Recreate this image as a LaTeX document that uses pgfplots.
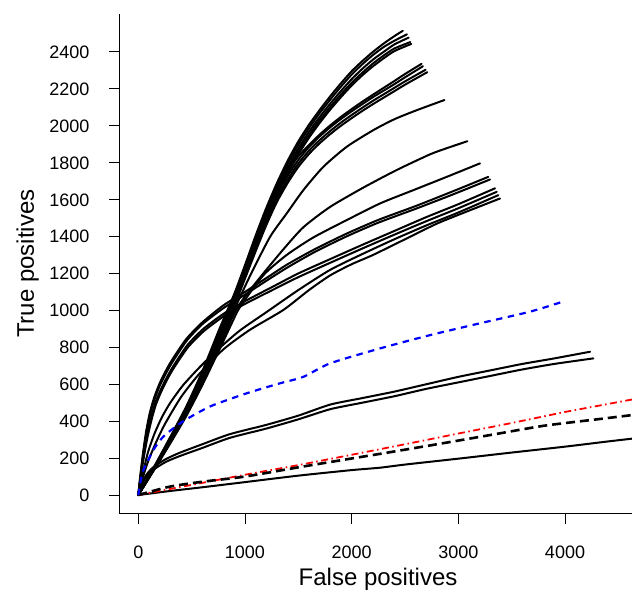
\documentclass[border=0pt]{standalone}
\usepackage{fontspec}
\setmainfont{Liberation Sans}
\usepackage{pgfplots}
\pgfplotsset{compat=1.18}
\begin{document}
\begin{tikzpicture}
\begin{axis}[name=ax,
  scale only axis, width=513bp, height=499.5bp,
  xmin=-181, xmax=4628, ymin=-100, ymax=2605,
  axis x line*=bottom, axis y line*=left,
  axis line style={line width=0.8bp, -},
  xtick={0,1000,2000,3000,4000},
  ytick={0,200,400,600,800,1000,1200,1400,1600,1800,2000,2200,2400},
  minor tick num=0,
  tick align=outside,
  major tick length=10bp,
  tick style={line width=0.8bp, black},
  /pgf/number format/assume math mode=true,
  /pgf/number format/1000 sep={},
  tick label style={font=\fontsize{18bp}{20bp}\selectfont},
  xticklabel style={anchor=base, yshift=-34.5bp},
  yticklabel style={anchor=base east, inner xsep=0pt, xshift=-19.5bp, yshift=-6.45bp},
  xlabel={False positives}, ylabel={True positives},
  label style={font=\fontsize{24bp}{28bp}\selectfont},
  xlabel style={at={(axis description cs:0.505,-0.145)}, anchor=base},
  ylabel style={at={(axis description cs:-0.166,0.5)}, anchor=base},
  bl/.style={black, line width=2bp, line join=round, line cap=round, smooth, tension=0.4},
]
% ---- top bundle (A) ----
\addplot[bl] coordinates {(0,0)(150,155)(300,315)(450,480)(600,670)(750,885)(900,1090)(1000,1245)(1100,1405)(1200,1555)(1300,1690)(1400,1810)(1500,1915)(1600,2005)(1700,2085)(1800,2160)(1900,2230)(2000,2295)(2100,2350)(2200,2400)(2300,2445)(2400,2485)(2480,2514)};
\addplot[bl] coordinates {(0,0)(150,150)(300,308)(450,470)(600,658)(750,870)(900,1072)(1000,1225)(1100,1385)(1200,1535)(1300,1672)(1400,1792)(1500,1897)(1600,1987)(1700,2068)(1800,2142)(1900,2212)(2000,2277)(2100,2333)(2200,2383)(2300,2426)(2400,2460)(2518,2495)};
\addplot[bl] coordinates {(0,0)(150,148)(300,302)(450,462)(600,648)(750,858)(900,1058)(1000,1208)(1100,1365)(1200,1515)(1300,1652)(1400,1772)(1500,1877)(1600,1967)(1700,2047)(1800,2120)(1900,2188)(2000,2252)(2100,2308)(2200,2358)(2300,2400)(2400,2440)(2534,2477)};
\addplot[bl] coordinates {(0,0)(150,146)(300,298)(450,456)(600,640)(750,848)(900,1046)(1000,1195)(1100,1350)(1200,1500)(1300,1637)(1400,1757)(1500,1860)(1600,1950)(1700,2030)(1800,2102)(1900,2170)(2000,2232)(2100,2287)(2200,2337)(2300,2380)(2400,2418)(2550,2453)};
\addplot[bl] coordinates {(0,0)(150,144)(300,294)(450,452)(600,634)(750,840)(900,1036)(1000,1183)(1100,1338)(1200,1486)(1300,1622)(1400,1742)(1500,1845)(1600,1935)(1700,2015)(1800,2088)(1900,2155)(2000,2218)(2100,2273)(2200,2322)(2300,2365)(2400,2404)(2559,2443)};
% ---- second bundle (B) ----
\addplot[bl] coordinates {(0,0)(150,152)(300,310)(450,472)(600,662)(750,875)(900,1078)(1000,1228)(1100,1385)(1200,1530)(1300,1655)(1400,1755)(1500,1835)(1600,1895)(1700,1952)(1800,2002)(1900,2048)(2000,2090)(2100,2130)(2200,2168)(2300,2205)(2400,2242)(2500,2280)(2655,2335)};
\addplot[bl] coordinates {(0,0)(150,147)(300,300)(450,460)(600,645)(750,852)(900,1052)(1000,1200)(1100,1352)(1200,1497)(1300,1625)(1400,1728)(1500,1815)(1600,1885)(1700,1942)(1800,1992)(1900,2037)(2000,2078)(2100,2117)(2200,2155)(2300,2190)(2400,2225)(2500,2262)(2668,2322)};
\addplot[bl] coordinates {(0,0)(150,145)(300,296)(450,453)(600,636)(750,840)(900,1038)(1000,1185)(1100,1335)(1200,1478)(1300,1605)(1400,1708)(1500,1795)(1600,1865)(1700,1922)(1800,1972)(1900,2017)(2000,2058)(2100,2097)(2200,2135)(2300,2170)(2400,2205)(2500,2240)(2693,2303)};
\addplot[bl] coordinates {(0,0)(150,143)(300,292)(450,447)(600,628)(750,830)(900,1026)(1000,1172)(1100,1320)(1200,1462)(1300,1588)(1400,1690)(1500,1777)(1600,1847)(1700,1905)(1800,1955)(1900,2000)(2000,2041)(2100,2080)(2200,2117)(2300,2152)(2400,2187)(2500,2222)(2709,2290)};
% ---- fan curves ----
\addplot[bl] coordinates {(0,0)(150,142)(300,290)(450,445)(600,620)(750,810)(900,1005)(1050,1190)(1235,1398)(1391,1525)(1547,1651)(1734,1777)(1954,1886)(2203,1976)(2400,2035)(2610,2084)(2869,2139)};
\addplot[bl] coordinates {(0,0)(150,140)(300,285)(450,435)(600,605)(750,790)(900,985)(1000,1075)(1172,1200)(1359,1330)(1547,1450)(1797,1560)(2110,1665)(2422,1760)(2735,1845)(2900,1880)(3085,1916)};
\addplot[bl] coordinates {(0,0)(150,138)(300,280)(450,428)(600,595)(750,775)(880,935)(953,1018)(1172,1190)(1391,1300)(1641,1395)(1954,1489)(2266,1579)(2578,1651)(2891,1723)(3203,1796)};
\addplot[bl] coordinates {(0,0)(20,110)(45,230)(75,350)(110,450)(150,530)(200,605)(260,675)(320,735)(450,845)(600,935)(800,1028)(1000,1100)(1200,1175)(1400,1250)(1650,1330)(1950,1415)(2250,1490)(2600,1565)(2950,1645)(3281,1723)};
\addplot[bl] coordinates {(0,0)(20,105)(45,220)(75,335)(110,435)(150,515)(200,590)(260,660)(320,720)(450,833)(600,925)(800,1013)(1000,1085)(1200,1160)(1400,1233)(1650,1315)(1950,1400)(2250,1475)(2600,1550)(2950,1628)(3297,1709)};
\addplot[bl] coordinates {(0,0)(22,100)(50,210)(80,320)(120,420)(160,500)(210,570)(270,640)(330,700)(460,812)(610,900)(800,982)(1000,1050)(1250,1125)(1500,1200)(1800,1278)(2100,1355)(2400,1430)(2700,1505)(3000,1575)(3344,1661)};
\addplot[bl] coordinates {(0,0)(22,95)(50,200)(85,310)(125,410)(165,490)(215,560)(275,630)(335,690)(465,800)(615,888)(800,968)(1000,1035)(1250,1108)(1500,1180)(1800,1258)(2100,1335)(2400,1410)(2700,1483)(3000,1553)(3360,1642)};
\addplot[bl] coordinates {(0,0)(40,110)(90,230)(150,330)(220,420)(300,500)(420,595)(580,695)(750,790)(950,890)(1200,990)(1500,1110)(1800,1220)(2100,1305)(2400,1385)(2700,1460)(3000,1530)(3375,1624)};
\addplot[bl] coordinates {(0,0)(50,110)(100,195)(170,290)(250,385)(400,530)(570,655)(800,790)(1047,895)(1359,1002)(1600,1110)(1800,1190)(2000,1250)(2200,1300)(2500,1385)(2800,1470)(3100,1540)(3391,1606)};
% ---- lower pair ----
\addplot[bl] coordinates {(0,0)(30,55)(70,105)(120,140)(166,162)(260,195)(384,228)(600,275)(860,330)(1200,380)(1500,430)(1800,490)(2100,525)(2400,560)(2700,600)(3000,640)(3300,675)(3600,710)(3900,740)(4235,776)};
\addplot[bl] coordinates {(0,0)(30,50)(70,95)(120,128)(166,147)(260,180)(384,210)(600,255)(860,310)(1200,360)(1500,410)(1800,465)(2100,500)(2400,535)(2700,575)(3000,610)(3300,645)(3600,680)(3900,710)(4266,740)};
% ---- bottom ----
\addplot[bl] coordinates {(0,0)(300,22)(600,42)(1000,70)(1500,105)(2000,135)(2265,148)(2500,165)(3000,197)(3500,230)(4000,262)(4400,290)(4700,310)};
% ---- coloured / dashed ----
\addplot[red, line width=1.8bp, dash pattern=on 7bp off 3.5bp on 1.5bp off 3.5bp] coordinates {(0,0)(500,55)(1000,110)(1500,162)(2000,218)(2500,275)(3000,333)(3500,390)(4000,450)(4700,525)};
\addplot[black, line width=2.6bp, dash pattern=on 9bp off 5bp, smooth, tension=0.4] coordinates {(0,0)(291,45)(600,72)(1000,100)(1500,150)(2000,198)(2297,226)(2800,275)(3300,325)(3800,375)(4300,410)(4700,438)};
\addplot[blue, line width=2.2bp, dash pattern=on 6.5bp off 5.5bp, smooth, tension=0.4] coordinates {(0,0)(30,100)(47,135)(141,244)(234,316)(391,388)(547,442)(703,487)(1016,551)(1328,605)(1547,640)(1797,713)(2266,794)(2735,866)(3203,930)(3672,993)(3984,1048)};
\end{axis}
\pgfresetboundingbox
\path ([shift={(-119bp,-77.5bp)}]ax.south west) rectangle ([shift={(0bp,14bp)}]ax.north east);
\end{tikzpicture}
\end{document}
